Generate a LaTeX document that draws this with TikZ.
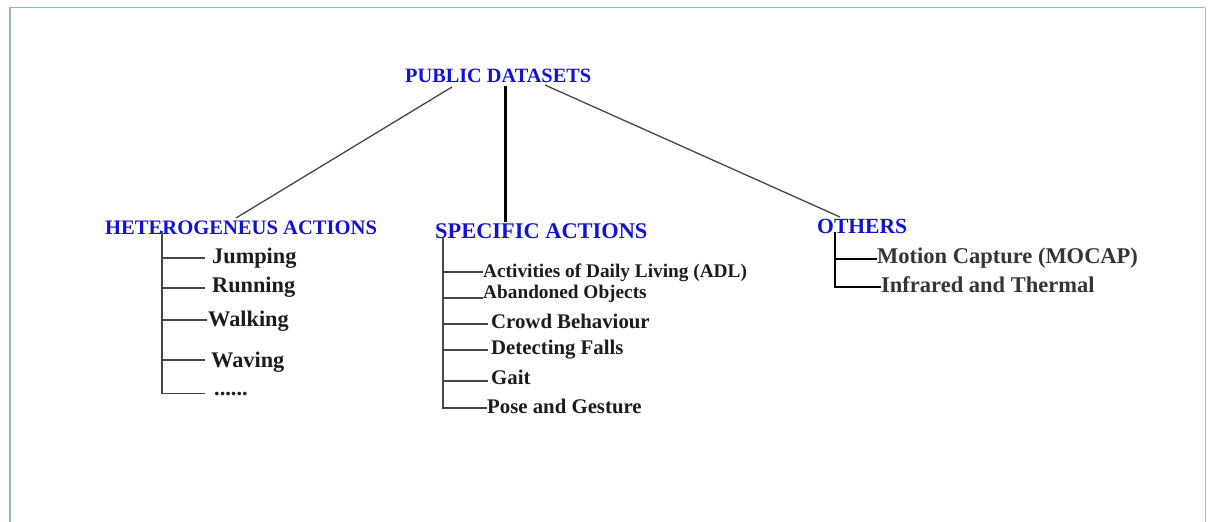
\documentclass[tikz,border=0pt]{standalone}
\usepackage{fontspec}
\setmainfont{Liberation Serif}
\definecolor{hdblue}{RGB}{18,18,215}
\definecolor{txtdark}{RGB}{28,28,28}
\definecolor{txtgray}{RGB}{55,52,50}
\definecolor{frameblue}{RGB}{140,185,200}
\definecolor{linegray}{RGB}{70,70,70}
\tikzset{
  header/.style={anchor=base west, inner sep=0pt, text=hdblue, font=\bfseries\fontsize{#1}{#1}\selectfont},
  leaf/.style={anchor=base west, inner sep=0pt, text=txtdark, font=\bfseries\fontsize{#1}{#1}\selectfont},
  leafg/.style={anchor=base west, inner sep=0pt, text=txtgray, font=\bfseries\fontsize{#1}{#1}\selectfont},
  thinlink/.style={draw=linegray, line width=1.3pt},
  thicklink/.style={draw=black, line width=3pt},
  treeline/.style={draw=linegray, line width=1.5pt},
  boldtree/.style={draw=black, line width=2.8pt},
}
\begin{document}
\begin{tikzpicture}[x=1pt,y=-1pt]
\useasboundingbox (0,0) rectangle (1208,522);
\fill[white] (0,0) rectangle (1208,522);
% frame
\draw[frameblue, line width=1.8pt] (10,522) -- (10,7.5) -- (1205,7.5);
\draw[gray!60, line width=0.8pt] (1205,7.5) -- (1205,522);

% headers
\node[header=20.3] (pub) at (405,82) {PUBLIC DATASETS};
\node[header=20.6] (het) at (105,234) {HETEROGENEUS ACTIONS};
\node[header=22.4] (spe) at (435,238) {SPECIFIC ACTIONS};
\node[header=21.6] (oth) at (817,233) {OTHERS};

% heterogeneous leaves
\node[leaf=22.3] (jump) at (212,263) {Jumping};
\node[leaf=22.3] (run)  at (212,292) {Running};
\node[leaf=22.3] (walk) at (208,326) {Walking};
\node[leaf=22.3] (wave) at (211,367) {Waving};
\node[leaf=22.3] (dots) at (214,395) {......};

% specific leaves
\node[leaf=19.3] (adl)  at (483,277.5) {Activities of Daily Living (ADL)};
\node[leaf=19.3] (aban) at (483,298) {Abandoned Objects};
\node[leaf=20.8] (crow) at (491,328) {Crowd Behaviour};
\node[leaf=20.8] (fall) at (491,354) {Detecting Falls};
\node[leaf=20.8] (gait) at (491,384) {Gait};
\node[leaf=20.8] (pose) at (487,413) {Pose and Gesture};

% others leaves
\node[leafg=22.5] (moc) at (877,263) {Motion Capture (MOCAP)};
\node[leafg=22.5] (inf) at (881,292) {Infrared and Thermal};

% junction coordinates
\coordinate (pubL) at (452,87);
\coordinate (pubM) at (505,86);
\coordinate (pubR) at (545,85);
\coordinate (hetT) at (236,218);
\coordinate (speT) at (505,222);
\coordinate (othT) at (840,217);

% top-level links
\draw[thinlink] (pubL) -- (hetT);
\draw[thicklink] (pubM) -- (speT);
\draw[thinlink] (pubR) -- (othT);

% heterogeneous tree
\coordinate (hv0) at (162,231);
\coordinate (hv1) at (162,394);
\draw[treeline] (hv0) -- (hv1);
\draw[treeline] (162,258) -- (205,258);
\draw[treeline] (162,288) -- (205,288);
\draw[treeline] (162,320) -- (207,320);
\draw[treeline] (162,360) -- (205,360);
\draw[treeline] (161.25,393.5) -- (205,393.5);

% specific tree
\coordinate (sv0) at (443,237);
\coordinate (sv1) at (443,408);
\draw[treeline] (sv0) -- (sv1);
\draw[treeline] (443,272) -- (adl.west |- 0,272);
\draw[treeline] (443,298) -- (aban.west |- 0,298);
\draw[treeline] (443,324) -- (488,324);
\draw[treeline] (443,350) -- (488,350);
\draw[treeline] (443,381) -- (488,381);
\draw[treeline] (442.25,408) -- (pose.west |- 0,408);

% others tree
\coordinate (ov0) at (835,232);
\draw[boldtree] (ov0) -- (835,288.4);
\draw[boldtree] (835,259) -- (moc.west |- 0,259);
\draw[boldtree] (833.6,287) -- (inf.west |- 0,287);
\end{tikzpicture}
\end{document}
